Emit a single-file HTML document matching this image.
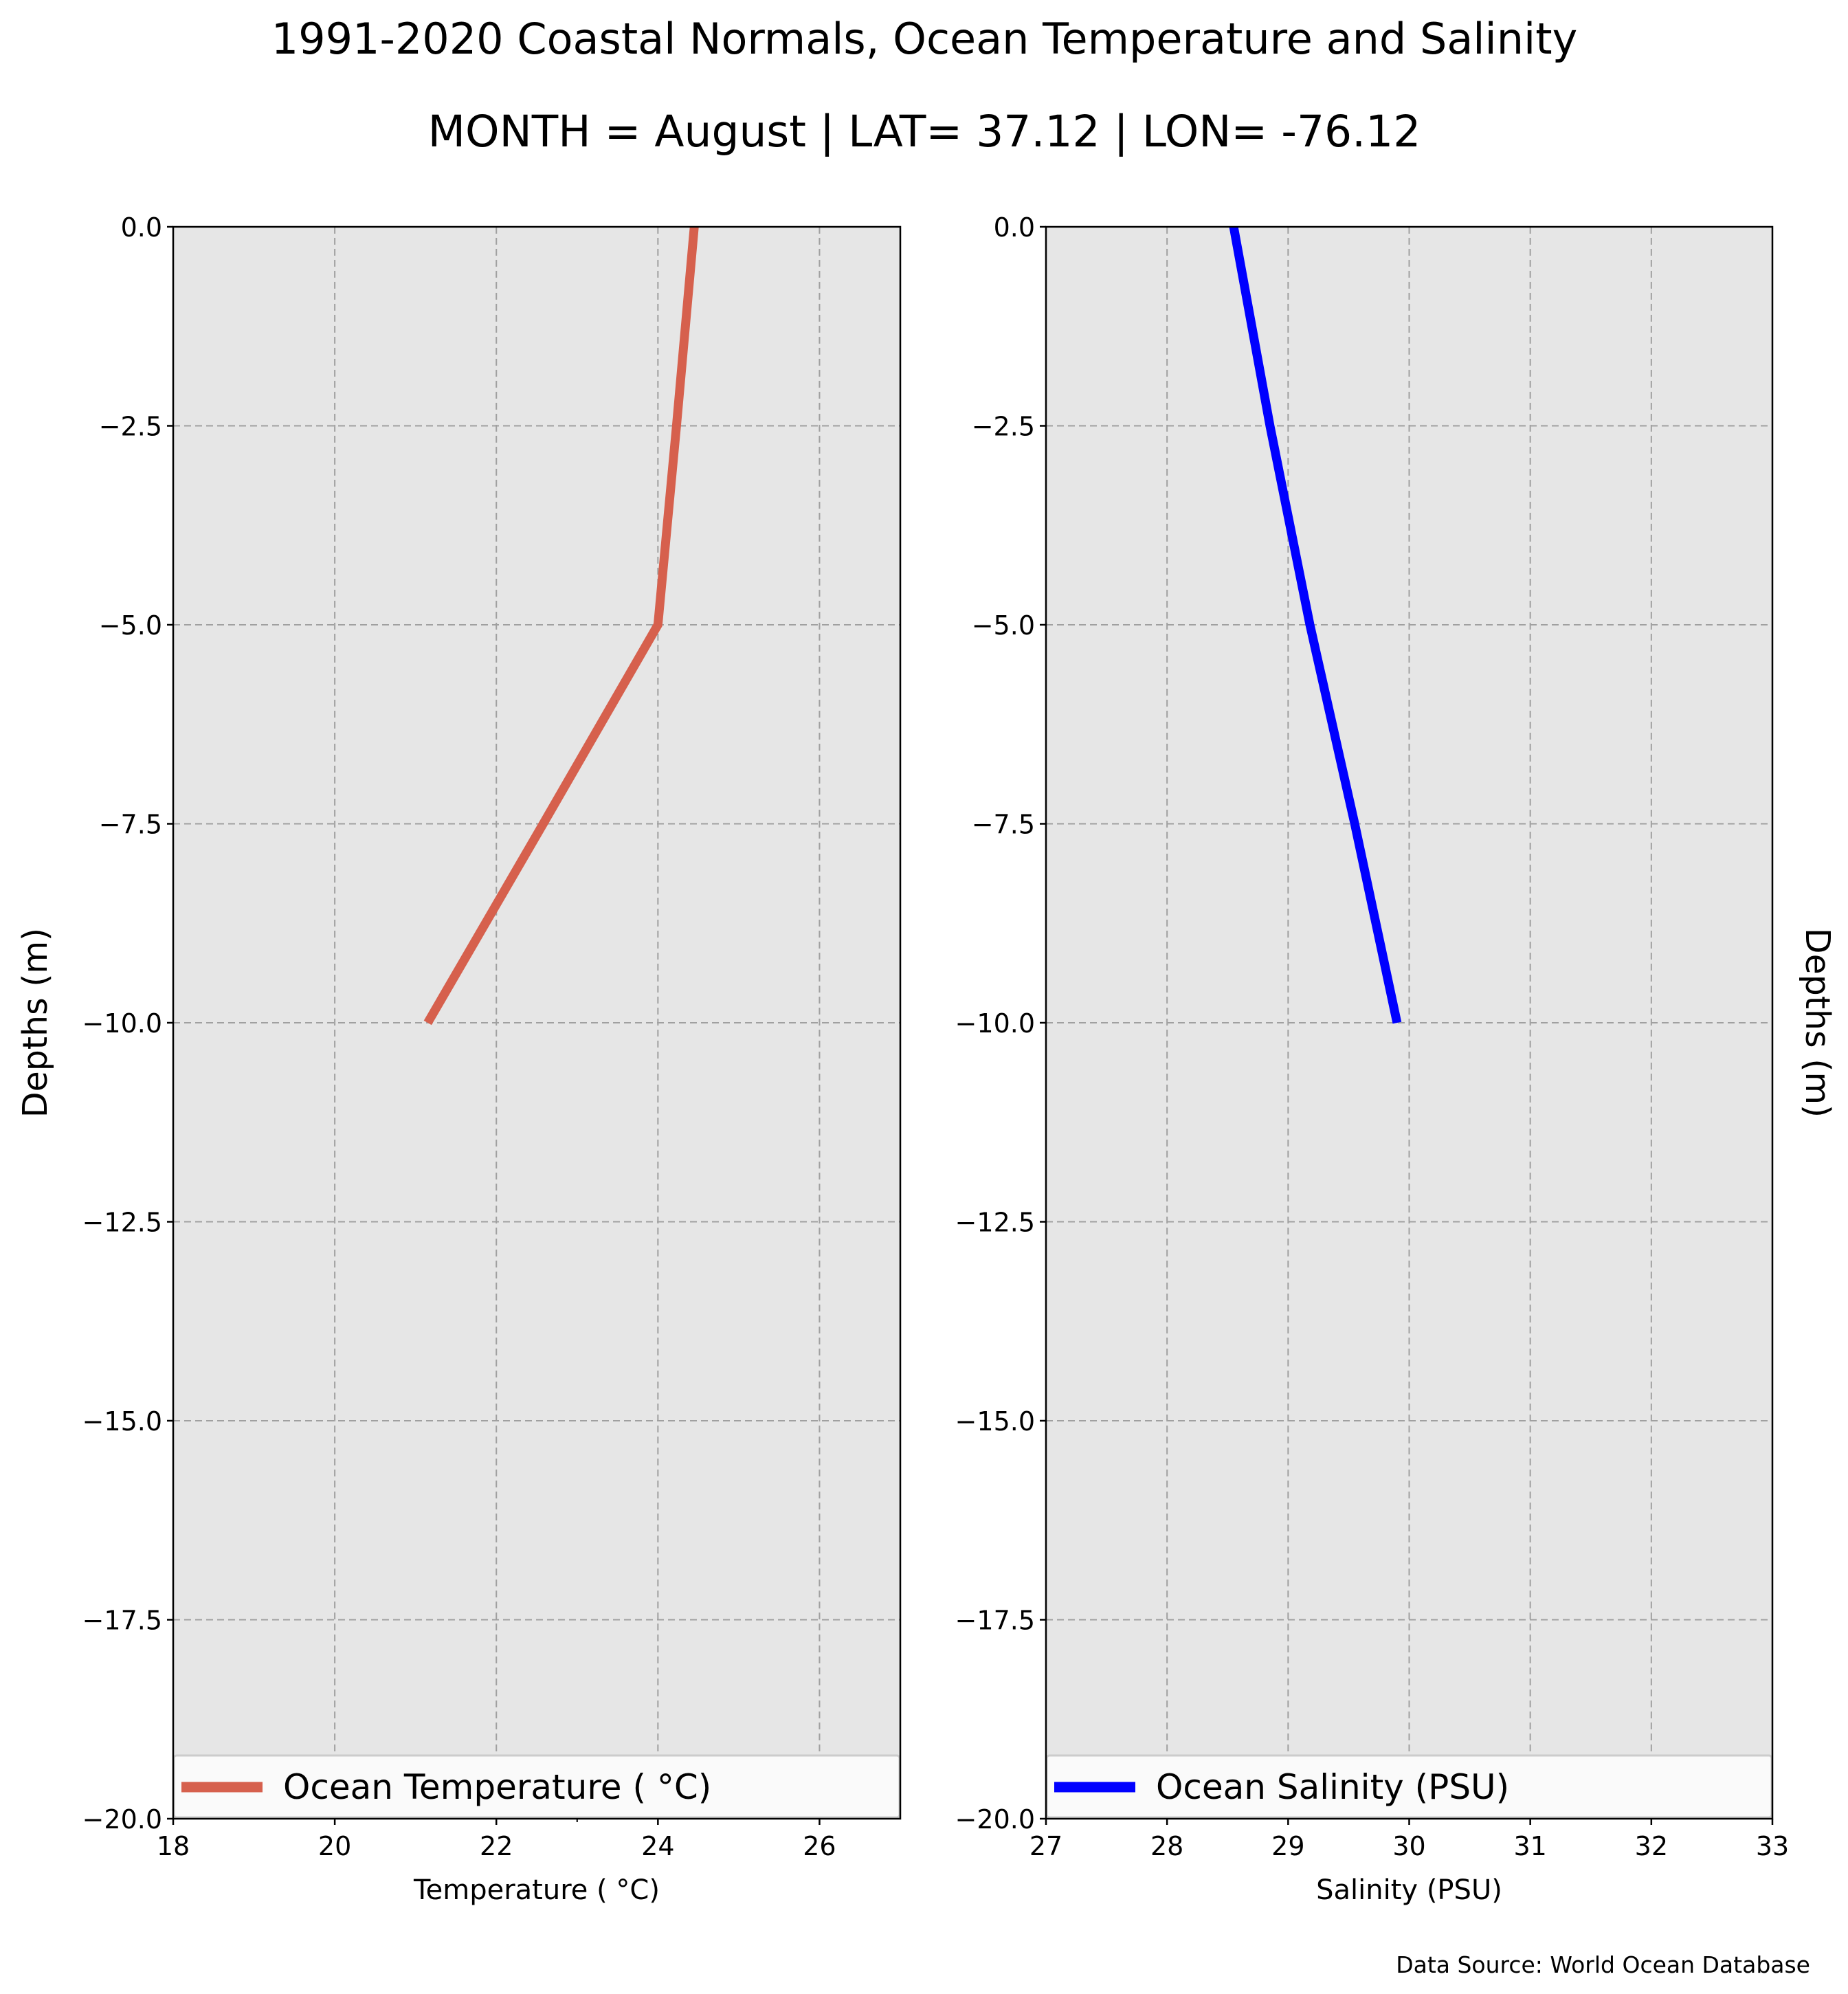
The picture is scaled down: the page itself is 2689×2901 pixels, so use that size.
<!DOCTYPE html>
<html><head><meta charset="utf-8"><style>
body{margin:0;background:#fff}
svg{display:block;font-family:"DejaVu Sans","Liberation Sans",sans-serif}
</style></head><body>
<svg id="chart" width="2689" height="2901" viewBox="0 0 2689 2901" xmlns="http://www.w3.org/2000/svg">
<rect width="2689" height="2901" fill="#fff"/>
<text x="1345" y="78" font-size="62" text-anchor="middle">1991-2020 Coastal Normals, Ocean Temperature and Salinity</text>
<text x="1345" y="213" font-size="63" text-anchor="middle">MONTH = August | LAT= 37.12 | LON= -76.12</text>
<text transform="translate(68,1488) rotate(-90)" font-size="49" text-anchor="middle">Depths (m)</text>
<text transform="translate(2628,1488) rotate(90)" font-size="49" text-anchor="middle">Depths (m)</text>
<text x="2634" y="2870" font-size="33" text-anchor="end">Data Source: World Ocean Database</text>
<g id="panels"></g>
</svg>
<script>
const depths = [0, -2.5, -5, -7.5, -10];
const temperature = [24.45, 24.23, 24.0, 22.58, 21.15];
const salinity = [28.55, 28.85, 29.18, 29.55, 29.9];
const yTicks = [0, -2.5, -5, -7.5, -10, -12.5, -15, -17.5, -20];
const tempTicks = [18, 20, 22, 24, 26];
const salTicks = [27, 28, 29, 30, 31, 32, 33];

const NS = "http://www.w3.org/2000/svg";
const root = document.getElementById('panels');
function mk(tag, attrs, parent){const e=document.createElementNS(NS,tag);for(const k in attrs)e.setAttribute(k,attrs[k]);(parent||root).appendChild(e);return e;}

function panel(cfg){
  const {x0,x1,y0,y1,xmin,xmax,xticks,vals,color,legend,xlabel,key,minor}=cfg;
  const g=mk('g',{});
  
  
  const sx=v=>x0+(v-xmin)/(xmax-xmin)*(x1-x0);
  const sy=v=>y0+(0-v)/20*(y1-y0);
  const bg=mk('rect',{x:x0,y:y0,width:x1-x0,height:y1-y0,fill:'#e6e6e6'},g);
  
  
  xticks.forEach(t=>{
    const gl=mk('line',{x1:sx(t),x2:sx(t),y1:y0,y2:y1,stroke:'#a0a0a0','stroke-width':2,'stroke-dasharray':'10,6'},g);
    
    
  });
  yTicks.forEach(t=>{
    const gl=mk('line',{x1:x0,x2:x1,y1:sy(t),y2:sy(t),stroke:'#a0a0a0','stroke-width':2,'stroke-dasharray':'10,6'},g);
    
    
  });
  const pts=vals.map((v,i)=>sx(v)+','+sy(depths[i])).join(' ');
  const pl=mk('polyline',{points:pts,fill:'none',stroke:color,'stroke-width':13},g);
  
  
  const lg=mk('g',{},g);
  
  
  mk('rect',{x:x0+1,y:y1-92,width:x1-x0-2,height:90,fill:'#fafafa',stroke:'#cccccc','stroke-width':3,rx:4},lg);
  mk('line',{x1:x0+12,x2:x0+130,y1:y1-46,y2:y1-46,stroke:color,'stroke-width':15},lg);
  const lt=mk('text',{x:x0+160,y:y1-29,'font-size':50},lg);
  lt.textContent=legend;
  
  
  mk('rect',{x:x0,y:y0,width:x1-x0,height:y1-y0,fill:'none',stroke:'#000','stroke-width':2.5},g);
  yTicks.forEach(t=>{
    mk('line',{x1:x0-9,x2:x0,y1:sy(t),y2:sy(t),stroke:'#000','stroke-width':2.5},g);
    const tx=mk('text',{x:x0-16,y:sy(t)+14,'font-size':38,'text-anchor':'end'},g);
    tx.textContent=(t===0?'0.0':'\u2212'+Math.abs(t).toFixed(1));
    
    
  });
  xticks.forEach(t=>{
    mk('line',{x1:sx(t),x2:sx(t),y1:y1,y2:y1+9,stroke:'#000','stroke-width':2.5},g);
    const tx=mk('text',{x:sx(t),y:y1+53,'font-size':38,'text-anchor':'middle'},g);
    tx.textContent=t;
    
    
  });
  if(minor){ mk('line',{x1:sx(minor),x2:sx(minor),y1:y1,y2:y1+5,stroke:'#000','stroke-width':2},g); }
  const xl=mk('text',{x:(x0+x1)/2,y:y1+117,'font-size':40,'text-anchor':'middle'},g);
  xl.textContent=xlabel;
  
  
}
panel({key:'temperature',x0:252,x1:1310,y0:330,y1:2646,xmin:18,xmax:27,xticks:tempTicks,vals:temperature,color:'#d6604d',legend:'Ocean Temperature ( \u00b0C)',xlabel:'Temperature ( \u00b0C)',minor:23});
panel({key:'salinity',x0:1522,x1:2579,y0:330,y1:2646,xmin:27,xmax:33,xticks:salTicks,vals:salinity,color:'#0000ff',legend:'Ocean Salinity (PSU)',xlabel:'Salinity (PSU)'});
</script>
</body></html>
